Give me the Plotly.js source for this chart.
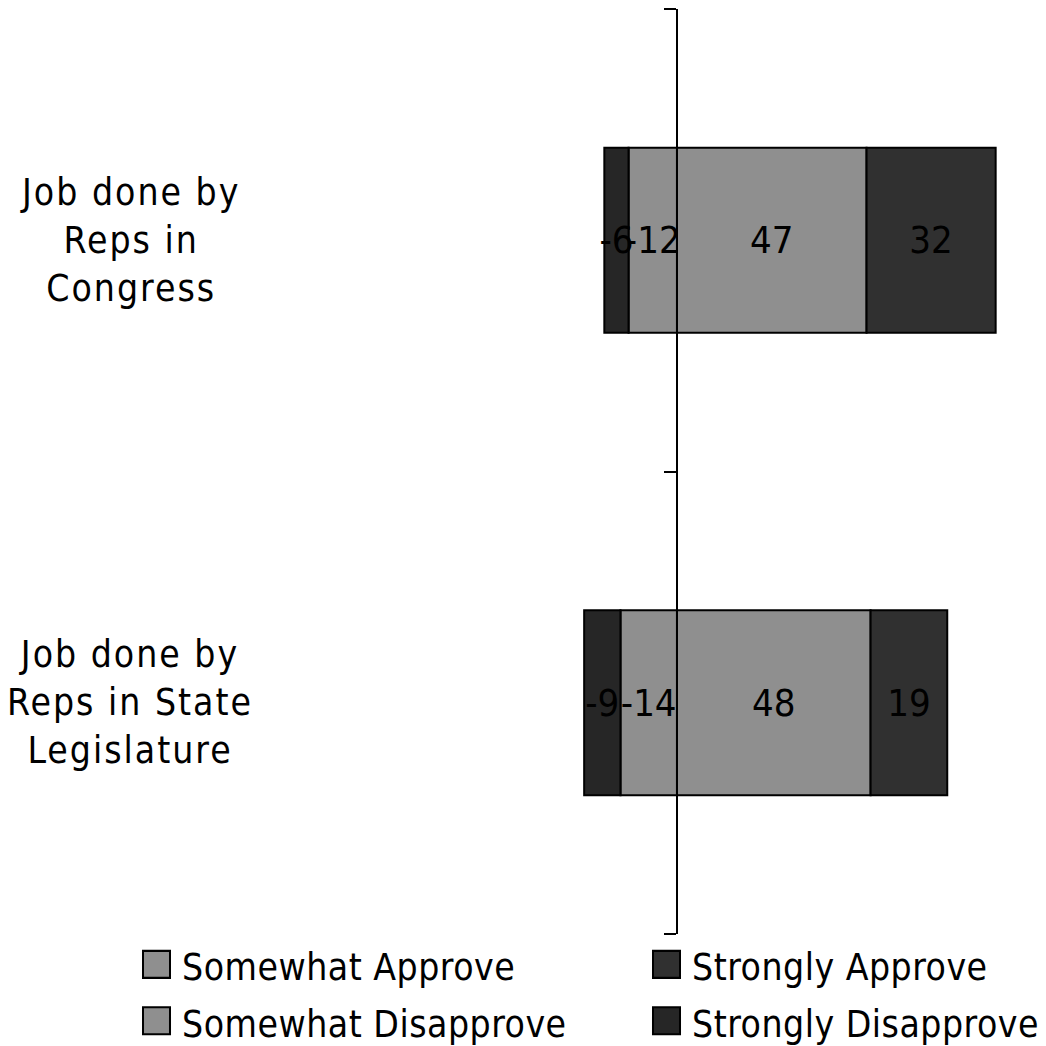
<!DOCTYPE html>
<html>
<head>
<meta charset="utf-8">
<script src="https://cdn.plot.ly/plotly-3.0.1.min.js"></script>
<style>
html, body { margin: 0; padding: 0; background: #fff; }
#chart { width: 1046px; height: 1046px; }
.js-plotly-plot .annotation-text { letter-spacing: 2px; }
.js-plotly-plot .bartext { letter-spacing: 0px; }
.js-plotly-plot .legendtext { letter-spacing: 0.5px; font-size: 37px !important; }
.js-plotly-plot .legendpoints path { transform: translate(14.5px, 0) scale(2.25); stroke-width: 0.9px !important; }
</style>
</head>
<body>
<div id="chart"></div>
<script>
// Categories (bottom to top)
const categories = ["Job done by Reps in State Legislature", "Job done by Reps in Congress"];
const categoryLabels = ["Job done by<br>Reps in State<br>Legislature", "Job done by<br>Reps in<br>Congress"];

// Series values
const somewhatApprove = [48, 47];
const stronglyApprove = [19, 32];
const somewhatDisapprove = [-14, -12];
const stronglyDisapprove = [-9, -6];

const seriesNames = ["Somewhat Approve", "Strongly Approve", "Somewhat Disapprove", "Strongly Disapprove"];
const seriesValues = [somewhatApprove, stronglyApprove, somewhatDisapprove, stronglyDisapprove];
const seriesColors = ["#8f8f8f", "#303030", "#8f8f8f", "#262626"];

const xRange = [-167.8, 89.0];
const FONT = "'Liberation Sans Narrow', 'DejaVu Sans Condensed', 'Roboto', sans-serif";

const traces = seriesNames.map((name, i) => ({
  type: "bar",
  orientation: "h",
  name: name,
  y: categories,
  x: seriesValues[i],
  text: seriesValues[i].map(String),
  textposition: "inside",
  insidetextanchor: "middle",
  constraintext: "none",
  textangle: 0,
  textfont: { family: FONT, size: 38, color: "#000" },
  marker: { color: seriesColors[i], line: { color: "#000", width: 2 } },
  hoverinfo: "none"
}));

const annotations = categories.map((c, i) => ({
  xref: "paper", yref: "y",
  x: 130 / 1036, y: c,
  xanchor: "center", yanchor: "middle",
  text: categoryLabels[i],
  showarrow: false,
  align: "center",
  font: { family: FONT, size: 37, color: "#000" }
}));

const layout = {
  width: 1046, height: 1046,
  margin: { l: 0, r: 10, t: 9, b: 112, pad: 0, autoexpand: false },
  paper_bgcolor: "#fff", plot_bgcolor: "#fff",
  barmode: "relative",
  bargap: 0.6,
  showlegend: true,
  font: { family: FONT, size: 38, color: "#000" },
  xaxis: {
    range: xRange,
    showgrid: false, zeroline: false, showline: false,
    showticklabels: false, ticks: ""
  },
  yaxis: {
    type: "category",
    categoryorder: "array",
    categoryarray: categories,
    range: [-0.5, 1.5],
    anchor: "free",
    position: (0 - xRange[0]) / (xRange[1] - xRange[0]),
    showline: true, linecolor: "#000", linewidth: 2,
    ticks: "outside", tickson: "boundaries", ticklen: 12, tickwidth: 2, tickcolor: "#000",
    showticklabels: false, showgrid: false, zeroline: false,
    layer: "above traces"
  },
  legend: {
    orientation: "h",
    x: 142 / 1036, xanchor: "left",
    y: 0.003, yanchor: "top",
    traceorder: "normal",
    entrywidth: 465, entrywidthmode: "pixels",
    font: { family: FONT, size: 41, color: "#000" },
    bgcolor: "rgba(0,0,0,0)"
  },
  annotations: annotations
};

Plotly.newPlot("chart", traces, layout, { staticPlot: true, displayModeBar: false });
</script>
</body>
</html>
